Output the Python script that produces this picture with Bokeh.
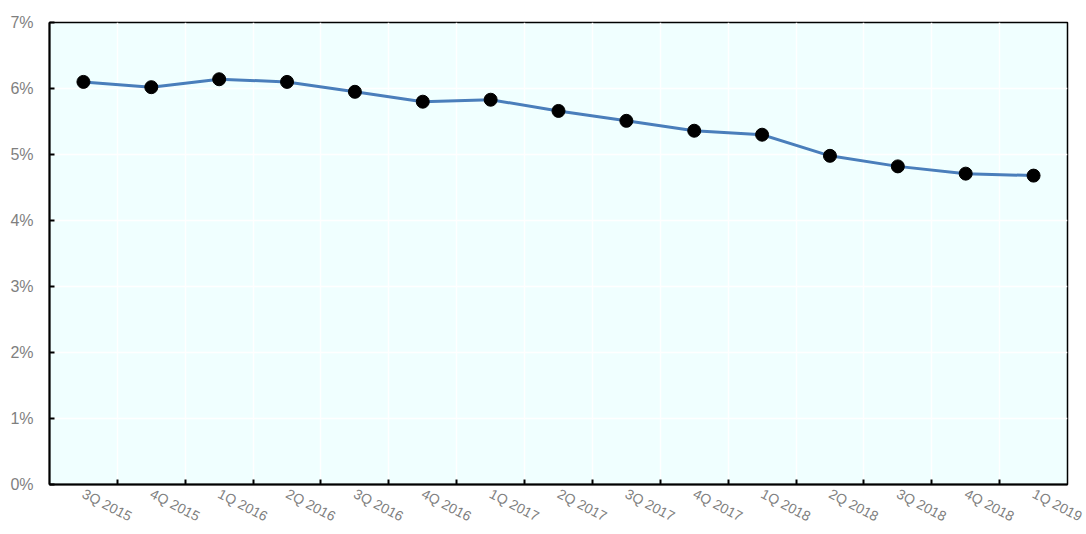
from bokeh.plotting import figure
from bokeh.models import (Range1d, FactorRange, LinearAxis, FixedTicker,
                          Grid, PrintfTickFormatter, ColumnDataSource)
from bokeh.embed import file_html
from bokeh.resources import INLINE

quarters = ["3Q 2015", "4Q 2015", "1Q 2016", "2Q 2016", "3Q 2016", "4Q 2016", "1Q 2017",
            "2Q 2017", "3Q 2017", "4Q 2017", "1Q 2018", "2Q 2018", "3Q 2018", "4Q 2018", "1Q 2019"]
rate = [6.10, 6.02, 6.14, 6.10, 5.95, 5.80, 5.83, 5.66, 5.51, 5.36, 5.30, 4.98, 4.82, 4.71, 4.68]
y_ticks = [0, 1, 2, 3, 4, 5, 6, 7]

src = ColumnDataSource(data=dict(quarter=quarters, rate=rate))

p = figure(x_range=FactorRange(*quarters), y_range=Range1d(y_ticks[0], y_ticks[-1]),
           width=1086, height=534, output_backend="svg", toolbar_location=None,
           x_axis_location=None,
           min_border_left=49, min_border_top=22, min_border_right=19, min_border_bottom=47,
           background_fill_color="#F0FFFF", border_fill_color="white",
           outline_line_color="black", outline_line_width=1.5)
for g in p.xgrid:
    g.grid_line_color = None

# categorical synthetic coordinates: quarter i spans [i, i+1]
centers = [i + 0.5 for i in range(len(quarters))]
bounds = list(range(1, len(quarters)))
x_ticker = FixedTicker(ticks=centers, minor_ticks=bounds)
xax = LinearAxis(ticker=x_ticker,
                 major_label_overrides={c: q for c, q in zip(centers, quarters)},
                 major_label_orientation=-0.48, major_label_standoff=2,
                 major_label_text_font_size="14px", major_label_text_color="#7f7f7f",
                 major_label_text_font="Liberation Sans",
                 major_tick_line_color=None,
                 minor_tick_in=5, minor_tick_out=0, minor_tick_line_width=2,
                 minor_tick_line_color="black",
                 axis_line_width=2, axis_line_color="black")
p.add_layout(xax, "below")

p.add_layout(Grid(dimension=0, ticker=x_ticker, grid_line_color=None,
                  minor_grid_line_color="white", minor_grid_line_width=1.5))

yax = p.yaxis[0]
yax.ticker = FixedTicker(ticks=y_ticks, minor_ticks=[])
yax.formatter = PrintfTickFormatter(format="%d%%")
yax.major_tick_in = 5
yax.major_tick_out = 0
yax.major_tick_line_width = 2
yax.minor_tick_line_color = None
yax.axis_line_width = 2
yax.axis_line_color = "black"
yax.major_label_standoff = 16
yax.major_label_text_font_size = "16px"
yax.major_label_text_color = "#7f7f7f"
yax.major_label_text_font = "Liberation Sans"
p.ygrid.grid_line_color = "white"
p.ygrid.grid_line_width = 1.5

p.line(x="quarter", y="rate", source=src, line_color="#4a7ebb", line_width=3)
p.scatter(x="quarter", y="rate", source=src, size=13, fill_color="black", line_color="black")

open("out.html", "w").write(file_html(p, INLINE))
